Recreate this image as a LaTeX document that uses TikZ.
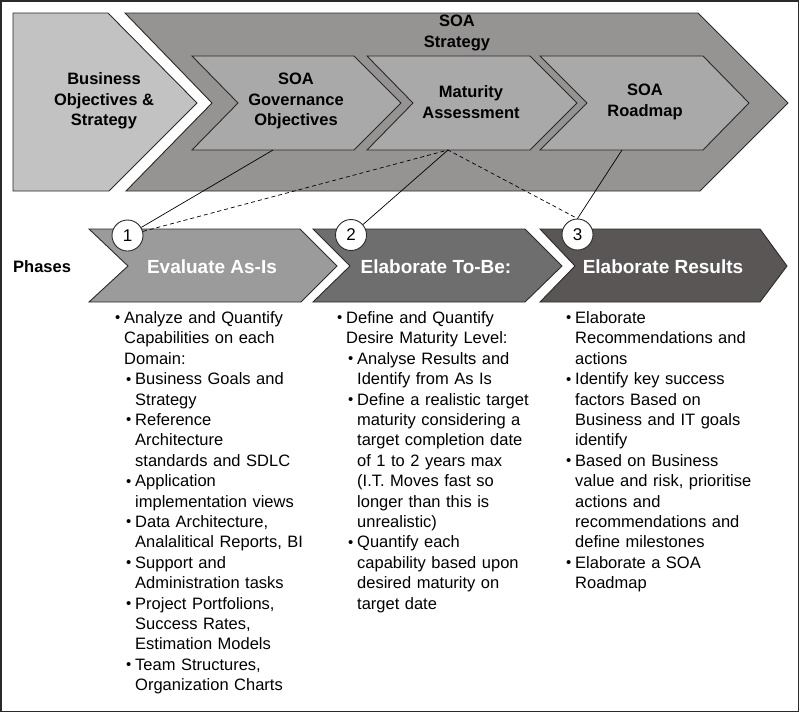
\documentclass[tikz,border=0pt]{standalone}
\usepackage{fontspec}
\setmainfont{Liberation Sans}
\usepackage{enumitem}
\definecolor{outl}{HTML}{2A2A2A}
\definecolor{bizfill}{HTML}{C2C2C2}
\definecolor{stratfill}{HTML}{959493}
\definecolor{innerfill}{HTML}{A9A9A9}
\definecolor{phone}{HTML}{9B9B9B}
\definecolor{phtwo}{HTML}{6E6E6E}
\definecolor{phthree}{HTML}{5A5655}
\newcommand\smallbul{\raisebox{0.05ex}{\scalebox{0.9}{\textbullet}}}
\setlist[itemize,1]{leftmargin=9pt,labelwidth=7pt,labelsep=2pt,align=left,label=\smallbul,topsep=0pt,partopsep=0pt,itemsep=0pt,parsep=0pt}
\setlist[itemize,2]{leftmargin=11pt,labelwidth=7pt,labelsep=2pt,align=left,label=\smallbul,topsep=0pt,partopsep=0pt,itemsep=0pt,parsep=0pt}
\tikzset{
  chev/.style={draw=outl,line width=0.9pt,line join=miter},
  hd/.style={font=\fontsize{16.5}{20.5}\selectfont\bfseries,align=center,text=black,inner sep=0pt},
  phtext/.style={font=\fontsize{19}{22}\selectfont\bfseries,text=white,inner sep=0pt},
  num/.style={circle,draw=outl,fill=white,line width=0.9pt,minimum size=31pt,inner sep=0pt,font=\fontsize{17}{17}\selectfont},
  conn/.style={draw=black,line width=0.7pt},
  dconn/.style={conn,dash pattern=on 4pt off 3pt},
  col/.style={anchor=base west,inner sep=0pt,text width=230pt,align=left,font=\fontsize{16.5}{20.4}\selectfont}
}
\begin{document}
\begin{tikzpicture}[x=1pt,y=-1pt]
\useasboundingbox (0,0) rectangle (800,713);
\fill[white] (0,0) rectangle (800,713);
\draw[outl,line width=1.2pt] (1,1) rectangle (798.5,711.5);
% top chevrons
\filldraw[chev,fill=bizfill] (13,13) -- (108,13) -- (197,103) -- (109,191) -- (13,191) -- cycle;
\filldraw[chev,fill=stratfill] (125,13) -- (698,13) -- (788,103) -- (700,191) -- (126,191) -- (212,103) -- cycle;
\filldraw[chev,fill=innerfill] (192,56) -- (354,56) -- (401,103) -- (354,150) -- (192,150) -- (238,103) -- cycle;
\filldraw[chev,fill=innerfill] (367,56) -- (530,56) -- (577,103) -- (530,150) -- (367,150) -- (413,103) -- cycle;
\filldraw[chev,fill=innerfill] (540,56) -- (703,56) -- (749,103) -- (703,150) -- (540,150) -- (587,103) -- cycle;
\node[hd] (biz) at (104,101) {Business\\Objectives \&\\Strategy};
\node[hd] (strat) at (457,33) {SOA\\Strategy};
\node[hd] (gov) at (296,101) {SOA\\Governance\\Objectives};
\node[hd] (mat) at (471,102) {Maturity\\Assessment};
\node[hd] (road) at (645,102) {SOA\\Roadmap};
% phase chevrons
\filldraw[chev,fill=phone] (89,229) -- (300,229) -- (337,266) -- (301,302) -- (89,302) -- (128,266) -- cycle;
\filldraw[chev,fill=phtwo] (313,229) -- (525,229) -- (562,266) -- (525,302) -- (313,302) -- (350,266) -- cycle;
\filldraw[chev,fill=phthree] (540,229) -- (760,229) -- (787,266) -- (760,302) -- (540,302) -- (575,266) -- cycle;
\node[hd,anchor=west] (phases) at (13,267) {Phases};
\node[phtext] (p1) at (212,267) {Evaluate As-Is};
\node[phtext] (p2) at (436,267) {Elaborate To-Be:};
\node[phtext] (p3) at (663,267) {Elaborate Results};
% numbered circles
\node[num] (c1) at (127.5,235.5) {1};
\node[num] (c2) at (351,235) {2};
\node[num] (c3) at (577.5,234.5) {3};
% connectors
\coordinate (govb) at (273,150);
\coordinate (matb) at (448,150);
\coordinate (roadb) at (622,150);
\draw[conn] (govb) -- (c1);
\draw[dconn] (c1) -- (matb) -- (c3.north);
\draw[conn] (matb) -- (c2);
\draw[conn] (roadb) -- (c3.north);
% bullet columns
\node[col] (l1) at (115,303) {%
\begin{itemize}
\item Analyze and Quantify\\Capabilities on each\\Domain:
 \begin{itemize}
 \item Business Goals and\\Strategy
 \item Reference\\Architecture\\standards and SDLC
 \item Application\\implementation views
 \item Data Architecture,\\Analalitical Reports, BI
 \item Support and\\Administration tasks
 \item Project Portfolions,\\Success Rates,\\Estimation Models
 \item Team Structures,\\Organization Charts
 \end{itemize}
\end{itemize}};
\node[col] (l2) at (337,303) {%
\begin{itemize}
\item Define and Quantify\\Desire Maturity Level:
 \begin{itemize}
 \item Analyse Results and\\Identify from As Is
 \item Define a realistic target\\maturity considering a\\target completion date\\of 1 to 2 years max\\(I.T. Moves fast so\\longer than this is\\unrealistic)
 \item Quantify each\\capability based upon\\desired maturity on\\target date
 \end{itemize}
\end{itemize}};
\node[col] (l3) at (566,303) {%
\begin{itemize}
\item Elaborate\\Recommendations and\\actions
\item Identify key success\\factors Based on\\Business and IT goals\\identify
\item Based on Business\\value and risk, prioritise\\actions and\\recommendations and\\define milestones
\item Elaborate a SOA\\Roadmap
\end{itemize}};
\end{tikzpicture}
\end{document}
